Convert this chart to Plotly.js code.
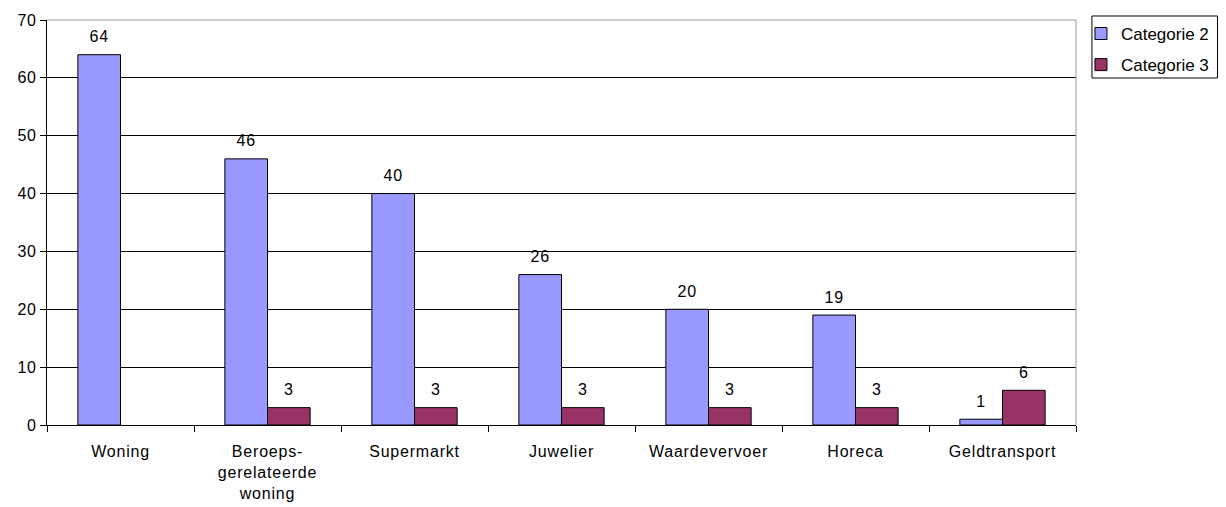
<!DOCTYPE html>
<html>
<head>
<meta charset="utf-8">
<script src="https://cdn.plot.ly/plotly-3.0.1.min.js"></script>
<style>
html,body{margin:0;padding:0;background:#fff;}
#chart{width:1226px;height:507px;}
#chart text{letter-spacing:0.8px;}
#chart .legend text{letter-spacing:0;}
</style>
</head>
<body>
<div id="chart"></div>
<script>
const categories = ["Woning", "Beroeps-<br>gerelateerde<br>woning", "Supermarkt", "Juwelier", "Waardevervoer", "Horeca", "Geldtransport"];
const cat2Values = [64, 46, 40, 26, 20, 19, 1];
const cat3Values = [null, 3, 3, 3, 3, 3, 6];
const seriesNames = ["Categorie 2", "Categorie 3"];
const seriesColors = ["#9999FF", "#993366"];
const yTicks = [0, 10, 20, 30, 40, 50, 60, 70];

const font = {family: "Liberation Sans, Arial, sans-serif", size: 16, color: "#000"};
const legendFont = {family: "Liberation Sans, Arial, sans-serif", size: 17, color: "#000"};
const GAP = 0.42;

function barTrace(i, vals) {
  return {type: "bar", name: seriesNames[i], x: categories, y: vals,
    offsetgroup: "g" + i, legendgroup: "g" + i,
    marker: {color: seriesColors[i], line: {color: "#000", width: 1}},
    hoverinfo: "none"};
}
function labelTrace(i, vals) {
  return {type: "scatter", mode: "markers+text", x: categories, y: vals,
    offsetgroup: "g" + i, showlegend: false, cliponaxis: false,
    marker: {size: 12, opacity: 0, color: seriesColors[i]},
    text: vals.map(v => v == null ? "" : String(v)),
    textposition: "top center", textfont: font, hoverinfo: "none"};
}

const traces = [
  barTrace(0, cat2Values), barTrace(1, cat3Values),
  labelTrace(0, cat2Values), labelTrace(1, cat3Values)
];

const layout = {
  width: 1226, height: 507,
  margin: {l: 47, r: 146, t: 20, b: 82, pad: 0},
  paper_bgcolor: "#fff", plot_bgcolor: "#fff",
  font: font,
  barmode: "group", bargap: GAP, bargroupgap: 0,
  scattermode: "group", scattergap: GAP,
  showlegend: true,
  legend: {x: 1.0048, y: 1.01, xanchor: "left", yanchor: "top",
    borderwidth: 0, bgcolor: "rgba(0,0,0,0)", font: legendFont,
    traceorder: "grouped", tracegroupgap: 6, itemwidth: 30},
  xaxis: {type: "category", tickson: "boundaries", ticks: "outside", ticklen: 6,
    tickcolor: "#000", showline: true, linecolor: "#000", linewidth: 1,
    showgrid: false, ticklabelstandoff: 12, automargin: false, fixedrange: true},
  yaxis: {range: [0, 70], tickvals: yTicks, ticks: "outside", ticklen: 6,
    tickcolor: "#000", showline: true, linecolor: "#000", linewidth: 1,
    showgrid: true, gridcolor: "#000", gridwidth: 1, zeroline: false,
    automargin: false, fixedrange: true},
  shapes: [
    {type: "line", xref: "paper", yref: "paper", x0: 0, x1: 1, y0: 1, y1: 1, line: {color: "#999", width: 1}},
    {type: "line", xref: "paper", yref: "paper", x0: 1, x1: 1, y0: 0, y1: 1, line: {color: "#999", width: 1}},
    {type: "rect", xref: "paper", yref: "paper", x0: 1.0155, x1: 1.1375, y0: 0.8568, y1: 1.0099,
     line: {color: "#000", width: 1}, fillcolor: "rgba(0,0,0,0)", layer: "above"}
  ]
};

Plotly.newPlot("chart", traces, layout, {displayModeBar: false, staticPlot: true});
</script>
</body>
</html>
